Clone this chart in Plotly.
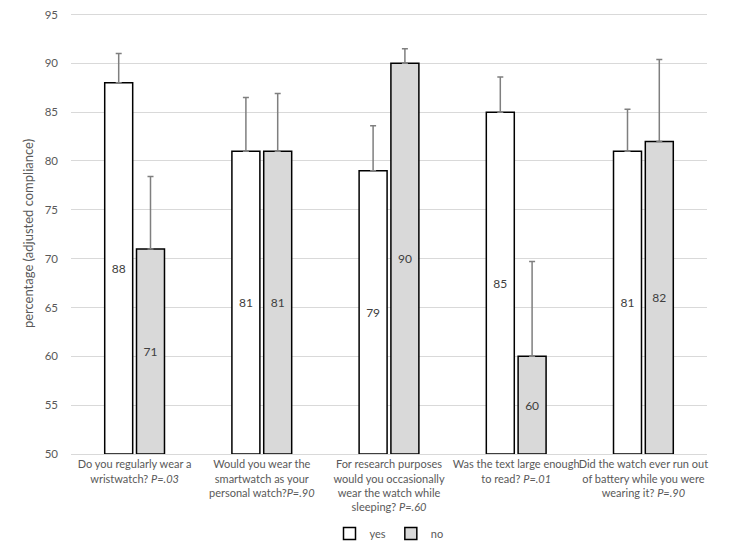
import plotly.graph_objects as go

categories = [
    "Do you regularly wear a<br>wristwatch? <i>P=.03</i>",
    "Would you wear the<br>smartwatch as your<br>personal watch?<i>P=.90</i>",
    "For research purposes<br>would you occasionally<br>wear the watch while<br>sleeping? <i>P=.60</i>",
    "Was the text large enough<br>to read? <i>P=.01</i>",
    "Did the watch ever run out<br>of battery while you were<br>wearing it? <i>P=.90</i>",
]
yes_values = [88, 81, 79, 85, 81]
no_values = [71, 81, 90, 60, 82]
yes_err = [3.0, 5.5, 4.6, 3.6, 4.3]
no_err = [7.4, 5.9, 1.5, 9.7, 8.4]

font_family = "Lato, Open Sans, sans-serif"
text_color = "#595959"

fig = go.Figure()
fig.add_trace(go.Bar(
    name="yes", x=categories, y=[v - 50 for v in yes_values], base=50,
    marker=dict(color="white", line=dict(color="black", width=1.5)),
    text=[str(v) for v in yes_values], textposition="inside", insidetextanchor="middle",
    textfont=dict(color="#404040", size=12, family=font_family),
    error_y=dict(type="data", array=yes_err, arrayminus=[0]*5, symmetric=False,
                 color="#7f7f7f", thickness=1.5, width=3),
    hoverinfo="skip",
))
fig.add_trace(go.Bar(
    name="no", x=categories, y=[v - 50 for v in no_values], base=50,
    marker=dict(color="#d9d9d9", line=dict(color="black", width=1.5)),
    text=[str(v) for v in no_values], textposition="inside", insidetextanchor="middle",
    textfont=dict(color="#404040", size=12, family=font_family),
    error_y=dict(type="data", array=no_err, arrayminus=[0]*5, symmetric=False,
                 color="#7f7f7f", thickness=1.5, width=3),
    hoverinfo="skip",
))

fig.update_layout(
    width=725, height=538,
    margin=dict(l=63, r=26, t=5, b=92, autoexpand=False),
    plot_bgcolor="white", paper_bgcolor="white",
    barmode="group", bargap=0.5, bargroupgap=0.12,
    font=dict(family=font_family, size=12, color=text_color),
    showlegend=True,
    legend=dict(orientation="h", x=0.5, xanchor="center", y=-0.18, yanchor="middle",
                font=dict(size=11, color=text_color), itemwidth=30,
                bgcolor="rgba(0,0,0,0)", traceorder="normal"),
    uniformtext=dict(mode="show", minsize=12),
)
fig.update_yaxes(
    range=[50, 95.15], dtick=5, showgrid=True, gridcolor="#d9d9d9", gridwidth=1,
    zeroline=False, showline=False, ticks="", ticklabelstandoff=12, automargin=False,
    ticklabeloverflow="allow",
    title=dict(text="percentage (adjusted compliance)", font=dict(size=13, color=text_color), standoff=8),
    tickfont=dict(size=11.5, color=text_color),
)
fig.update_xaxes(
    showline=True, linecolor="#d9d9d9", linewidth=1, ticks="", automargin=False,
    ticklabeloverflow="allow",
    tickfont=dict(size=11, color=text_color), tickangle=0,
)

fig.write_html("out.html")
